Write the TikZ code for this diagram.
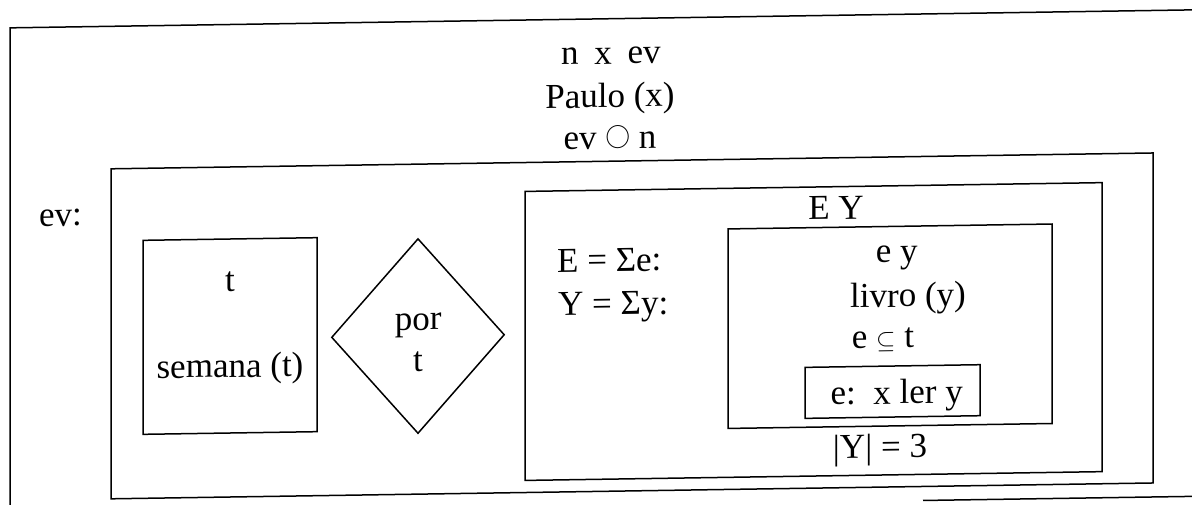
\documentclass[tikz,border=0pt]{standalone}
\usepackage{fontspec}
\setmainfont{Liberation Serif}
\usetikzlibrary{shapes.geometric}
\begin{document}
\begin{tikzpicture}[x=1pt,y=-1pt,
  frame/.style={draw, line width=1.5pt, inner sep=0pt, transform shape},
  edge/.style={line width=1.5pt},
  lbl/.style={inner sep=0pt, transform shape, anchor=base, font=\fontsize{35}{42}\selectfont},
  lblw/.style={lbl, anchor=base west}]
\useasboundingbox (0,0) rectangle (1192,505);
\clip (0,0) rectangle (1192,505);
\begin{scope}[yslant=0.0152]
  % outer page frame (partly outside the picture)
  \coordinate (pbl) at (10,560);
  \coordinate (ptl) at (10,28);
  \coordinate (ptr) at (1260,28);
  \coordinate (pbs) at (923,514.5);
  \coordinate (pbr) at (1260,514.5);
  \draw[edge] (pbl) -- (ptl) -- (ptr);
  \draw[edge] (pbs) -- (pbr);
  % ev box
  \node[frame, minimum width=1042pt, minimum height=330pt] (evbox) at (632,335.5) {};
  % t box
  \node[frame, minimum width=174pt, minimum height=194pt] (tbox) at (230,339.5) {};
  % diamond
  \node[frame, shape=diamond, minimum width=173pt, minimum height=195pt] (por) at (418,342.4) {};
  % E Y box
  \node[frame, minimum width=577pt, minimum height=289pt] (eybox) at (813.5,343.9) {};
  % inner box
  \node[frame, minimum width=324pt, minimum height=199.5pt] (inner) at (890,339.75) {};
  % e: x ler y box
  \node[frame, minimum width=175pt, minimum height=51pt] (ebox) at (892.5,405.1) {};

  % top texts
  \node[lbl] (t1) at (611,73.3) {n\hspace{0.45em}x\hspace{0.45em}ev};
  \node[lbl] (t2) at (610,116.6) {Paulo (x)};
  \node[lbl] (t3) at (610,158.3) {ev \raisebox{6pt}{\fontsize{28}{28}\selectfont$\bigcirc$} n};
  \node[lblw] (evl) at (39,227) {ev:};
  % t box texts
  \node[lbl] (tt) at (230,295) {t};
  \node[lbl] (sem) at (230,380.8) {semana (t)};
  % diamond texts
  \node[lbl] (por1) at (418.3,336.4) {por};
  \node[lbl] (por2) at (418,378) {t};
  % E Y box texts
  \node[lblw] (esum) at (557,280.9) {E = Σe:};
  \node[lblw] (ysum) at (558,324.2) {Y = Σy:};
  \node[lbl] (ey) at (836,232) {E Y};
  \node[lbl] (cy) at (896.7,276.3) {e y};
  \node[lbl] (livro) at (908,320.5) {livro (y)};
  \node[lbl] (sub) at (883,361.7) {e $\subseteq$ t};
  \node[lbl] (ler) at (896.7,417.6) {e:\ \ x ler y};
  \node[lbl] (card) at (880,471.7) {|Y| = 3};
\end{scope}
\end{tikzpicture}
\end{document}
